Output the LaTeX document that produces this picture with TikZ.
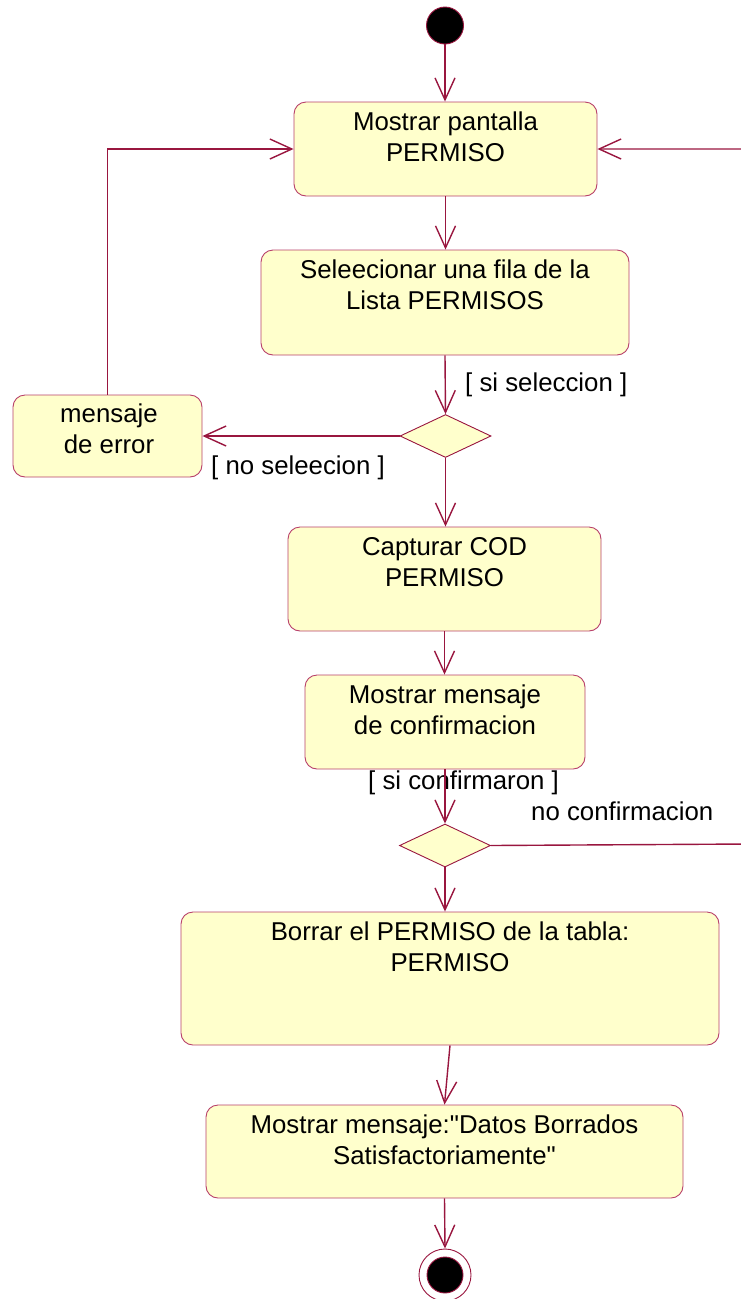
\documentclass[tikz,border=0pt]{standalone}
\usepackage{fontspec}
\setmainfont{Liberation Sans}
\newfontfamily\arialfam{Liberation Sans}
\usetikzlibrary{arrows.meta,shapes.geometric,calc}
\definecolor{umlline}{HTML}{99163F}
\definecolor{umlborder}{HTML}{B8406A}
\definecolor{umlfill}{HTML}{FFFFCC}
\tikzset{
  actbox/.style={draw=umlborder, line width=0.9pt, fill=umlfill, rounded corners=12pt, inner sep=0pt},
  txt/.style={inner sep=0pt, anchor=base, align=center, font=\arialfam\fontsize{25.8}{31.5}\selectfont},
  lbl/.style={inner sep=0pt, anchor=base west, font=\arialfam\fontsize{25.8}{31.5}\selectfont},
  decision/.style={diamond, draw=umlline, line width=0.9pt, fill=umlfill, inner sep=0pt, minimum width=91pt, minimum height=43pt},
  flow/.style={draw=umlline, line width=1.4pt, -{Straight Barb[length=22pt,width=20pt,line width=1.4pt]}},
}
\begin{document}
\begin{tikzpicture}[x=1pt,y=-1pt]
\useasboundingbox (0,0) rectangle (741,1299);
% start
\node[circle, fill=black, draw=umlline, line width=0.9pt, minimum size=37pt, inner sep=0pt] (start) at (445,25.5) {};
% boxes (text node base = baseline of the last line)
\node[actbox, minimum width=303pt, minimum height=94pt] (b1) at (445.5,149) {};
\node[txt] (t1) at (445.5,161.5) {Mostrar pantalla\\PERMISO};
\node[actbox, minimum width=368pt, minimum height=105pt] (b2) at (445,302.5) {};
\node[txt] (t2) at (445,309.5) {Seleecionar una fila de la\\Lista PERMISOS};
\node[actbox, minimum width=189pt, minimum height=82pt] (err) at (107.5,436) {};
\node[txt] (terr) at (109,453.5) {mensaje\\de error};
\node[decision] (d1) at (445.5,436) {};
\node[actbox, minimum width=313pt, minimum height=104pt] (b3) at (444.5,579) {};
\node[txt] (t3) at (444.5,586.5) {Capturar COD\\PERMISO};
\node[actbox, minimum width=280pt, minimum height=94pt] (b4) at (445,722) {};
\node[txt] (t4) at (445,734.5) {Mostrar mensaje\\de confirmacion};
\node[decision] (d2) at (445,845.5) {};
\node[actbox, minimum width=538pt, minimum height=133pt] (b5) at (450,978.5) {};
\node[txt] (t5) at (450,971.5) {Borrar el PERMISO de la tabla:\\PERMISO};
\node[actbox, minimum width=477pt, minimum height=93pt] (b6) at (444.5,1151.5) {};
\node[txt] (t6) at (444.5,1164.5) {Mostrar mensaje:"Datos Borrados\\Satisfactoriamente"};
% end
\node[circle, draw=umlline, line width=0.9pt, minimum size=52pt, inner sep=0pt] (endo) at (445,1275) {};
\node[circle, fill=black, draw=umlline, line width=0.9pt, minimum size=36pt, inner sep=0pt] (endi) at (445,1275) {};
% labels
\node[lbl] (l1) at (465,391) {[ si seleccion ]};
\node[lbl] (l2) at (211,474) {[ no seleecion ]};
\node[lbl] (l3) at (368,789) {[ si confirmaron ]};
\node[lbl] (l4) at (531,820) {no confirmacion};
% loop coordinates
\coordinate (r1) at (748,844);
\coordinate (r2) at (748,149);
% connectors
\draw[flow] (start.south) -- (start.south |- b1.north);
\draw[flow] (b1.south) -- (b1.south |- b2.north);
\draw[flow] (b2.south) -- (d1.north);
\draw[flow] (d1.west) -- (err.east);
\draw[flow] (err.north) -- (err.north |- b1.west) -- (b1.west);
\draw[flow] (d1.south) -- (d1.south |- b3.north);
\draw[flow] (b3.south) -- (b3.south |- b4.north);
\draw[flow] (b4.south) -- (d2.north);
\draw[flow] (d2.east) -- (r1) -- (r2) -- (b1.east);
\draw[flow] (d2.south) -- (d2.south |- b5.north);
\draw[flow] (b5.south) -- (b6.north);
\draw[flow] (b6.south) -- (endo.north);
\end{tikzpicture}
\end{document}
